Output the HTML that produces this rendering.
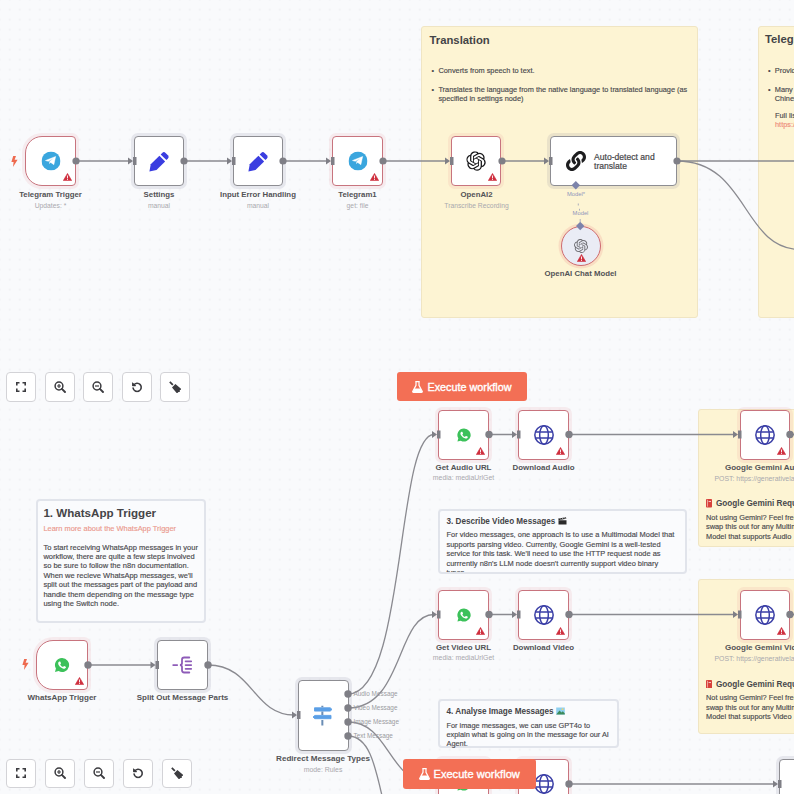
<!DOCTYPE html>
<html><head><meta charset="utf-8">
<style>
*{box-sizing:border-box}
html,body{margin:0;padding:0}
body{width:794px;height:794px;overflow:hidden;position:relative;background:#f9fafc;font-family:"Liberation Sans",sans-serif;
background-image:radial-gradient(circle,#edeef1 0.6px,transparent 0.9px);background-size:10px 10px;background-position:-5.3px -5.4px}
.abs{position:absolute}
.stk{position:absolute;background:#fdf4d3;border:1.5px solid #f0e5c3;border-radius:3px}
.stw{position:absolute;background:#fafbfd;border:2px solid #e1e4eb;border-radius:4px}
.n{position:absolute;width:50px;height:50px;background:#fff;border:1.5px solid #8d8d92;border-radius:4px;box-shadow:0 0 0 3px rgba(110,110,140,0.13)}
.n.e{border-color:#c8747e;border-width:1.7px;box-shadow:0 0 0 3px rgba(225,90,100,0.09)}
.n.t{border-radius:17px 4px 4px 17px}
.lbl{position:absolute;font-weight:bold;font-size:7.8px;color:#535356;white-space:nowrap;transform:translateX(-50%);line-height:1}
.sub{position:absolute;font-size:6.75px;color:#a9a9ae;white-space:nowrap;transform:translateX(-50%);line-height:1}
.ic{position:absolute;left:50%;top:50%;transform:translate(-50%,-50%)}
.warn{position:absolute;right:3.3px;bottom:3.6px;width:9px;height:8px}
.btn{position:absolute;width:30px;height:29.5px;background:#fff;border:1.3px solid #d3d3d7;border-radius:4px}
.btn svg{position:absolute;left:50%;top:50%;transform:translate(-50%,-50%)}
.exe{position:absolute;background:#f36f55;border-radius:3px;color:#fff;font-size:10.8px;font-weight:bold;white-space:nowrap}
.tt{position:absolute;font-weight:bold;color:#444447;white-space:nowrap;line-height:1}
.tx{position:absolute;color:#4a4a4e;white-space:nowrap;line-height:9.45px;font-size:7.37px;-webkit-text-stroke:0.15px currentColor}
</style></head><body>

<svg class="abs" style="left:0;top:0" width="794" height="794">
<defs>
<symbol id="warn" viewBox="0 0 18 16"><path d="M9 0.8 L17.4 15.2 L0.6 15.2 Z" fill="#cf2f3e" stroke="#cf2f3e" stroke-width="1.2" stroke-linejoin="round"/><rect x="8.1" y="5" width="1.8" height="5.8" fill="#fff"/><rect x="8.1" y="12" width="1.8" height="1.8" fill="#fff"/></symbol>
<symbol id="wa" viewBox="0 0 24 24"><path d="M12 1.5 A10.5 10.5 0 0 0 2.9 17.3 L1.5 22.5 L6.9 21.1 A10.5 10.5 0 1 0 12 1.5Z" fill="#3cc15a"/><path d="M8.6 6.6 C8.3 6.6 7.8 6.7 7.4 7.1 C7 7.5 6.3 8.2 6.3 9.6 C6.3 11 7.3 12.4 7.5 12.6 C7.6 12.8 9.5 15.7 12.4 16.9 C14.8 17.9 15.3 17.7 15.8 17.6 C16.4 17.5 17.5 16.9 17.8 16.2 C18 15.5 18 14.9 17.9 14.8 C17.8 14.7 17.7 14.6 17.4 14.5 L15.4 13.5 C15.1 13.4 14.9 13.4 14.7 13.7 L13.9 14.7 C13.7 14.9 13.5 14.9 13.2 14.8 C12.9 14.7 12 14.4 11 13.4 C10.2 12.7 9.6 11.8 9.5 11.5 C9.3 11.2 9.5 11 9.6 10.9 L10.1 10.3 C10.3 10.1 10.3 9.9 10.4 9.7 C10.5 9.5 10.5 9.3 10.4 9.1 L9.5 7 C9.3 6.6 9 6.6 8.8 6.6Z" fill="#fff"/></symbol>
<symbol id="globe" viewBox="0 0 24 24"><g fill="none" stroke="#3a3ea6" stroke-width="1.8"><circle cx="12" cy="12" r="11"/><ellipse cx="12" cy="12" rx="5.2" ry="11"/><path d="M1.5 8.3H22.5M1.5 15.7H22.5"/></g></symbol>
</defs>
</svg>

<!-- ============ TOP ============ -->
<div class="stk" style="left:421px;top:26px;width:277px;height:292px"></div>
<div class="stk" style="left:758px;top:26px;width:60px;height:292px"></div>
<div class="tt" style="left:429.5px;top:35px;font-size:11.3px">Translation</div>
<div class="tx" style="left:431.5px;top:65.5px">•</div><div class="tx" style="left:438.4px;top:65.5px">Converts from speech to text.</div>
<div class="tx" style="left:431.5px;top:85px">•</div><div class="tx" style="left:438.4px;top:85px">Translates the language from the native language to translated language (as<br>specified in settings node)</div>
<div class="tt" style="left:765px;top:34px;font-size:11.3px">Telegram</div>
<div class="tx" style="left:768px;top:65.5px">•</div><div class="tx" style="left:774.8px;top:65.5px">Provides</div>
<div class="tx" style="left:768px;top:85px">•</div><div class="tx" style="left:774.8px;top:85px">Many<br>Chinese</div>
<div class="tx" style="left:775px;top:111px">Full list<br><span style="color:#ee8c7a">https://</span></div>

<svg class="abs" style="left:0;top:0" width="794" height="794" fill="none" stroke="#8a8a90" stroke-width="1.3">
<path d="M76 161H130M184 161H229M283 161H328M383 161H447M502 161H546M677 161H794"/>
<path d="M677 161 C748 161 742 249 800 249.5"/>

</svg>

<!-- lightning -->
<svg class="abs" style="left:11px;top:156px" width="7" height="11" viewBox="0 0 7 11"><path d="M2.2 0 L5 0 L3.6 3.8 L6.6 3.8 L2 11 L2.6 6 L0.4 6 Z" fill="#ee6a4f"/></svg>

<div class="n e t" style="left:25px;top:136px;width:51px">
 <svg class="ic" width="19" height="19" viewBox="0 0 24 24"><circle cx="12" cy="12" r="12" fill="#3aa6de"/><path d="M5 11.4 L17.9 6.3 L15.6 16.6 L11.6 13.8 L10.2 15.2 L10.3 12.7 L15.2 8.6 L8.6 12.4 Z" fill="#fff" stroke="#fff" stroke-width="0.6" stroke-linejoin="round"/></svg>
 <svg class="warn"><use href="#warn"/></svg>
</div>
<div class="lbl" style="left:50.5px;top:190.7px">Telegram Trigger</div>
<div class="sub" style="left:50.5px;top:202.5px">Updates: *</div>

<div class="n" style="left:134px;top:136px">
 <svg class="ic" width="25" height="25" viewBox="0 0 21 21" style="margin-left:1.3px;margin-top:0.6px"><path d="M1.60 18.40 L2.73 12.46 L10.01 5.18 L14.82 9.99 L7.54 17.27 Z" fill="#3a3de0"/><path d="M11.08 4.12 L12.35 2.84 Q13.76 1.43 15.18 2.84 L17.16 4.82 Q18.57 6.24 17.16 7.65 L15.88 8.92 Z" fill="#3a3de0"/></svg>
</div>
<div class="lbl" style="left:159px;top:190.7px">Settings</div>
<div class="sub" style="left:159px;top:202.5px">manual</div>

<div class="n" style="left:233px;top:136px">
 <svg class="ic" width="25" height="25" viewBox="0 0 21 21" style="margin-left:1.3px;margin-top:0.6px"><path d="M1.60 18.40 L2.73 12.46 L10.01 5.18 L14.82 9.99 L7.54 17.27 Z" fill="#3a3de0"/><path d="M11.08 4.12 L12.35 2.84 Q13.76 1.43 15.18 2.84 L17.16 4.82 Q18.57 6.24 17.16 7.65 L15.88 8.92 Z" fill="#3a3de0"/></svg>
</div>
<div class="lbl" style="left:258px;top:190.7px">Input Error Handling</div>
<div class="sub" style="left:258px;top:202.5px">manual</div>

<div class="n e" style="left:332px;top:136px;width:51px">
 <svg class="ic" width="19" height="19" viewBox="0 0 24 24"><circle cx="12" cy="12" r="12" fill="#3aa6de"/><path d="M5 11.4 L17.9 6.3 L15.6 16.6 L11.6 13.8 L10.2 15.2 L10.3 12.7 L15.2 8.6 L8.6 12.4 Z" fill="#fff" stroke="#fff" stroke-width="0.6" stroke-linejoin="round"/></svg>
 <svg class="warn"><use href="#warn"/></svg>
</div>
<div class="lbl" style="left:357.5px;top:190.7px">Telegram1</div>
<div class="sub" style="left:357.5px;top:202.5px">get: file</div>

<div class="n e" style="left:451px;top:136px">
 <svg class="ic" width="19.5" height="19.5" viewBox="0 0 24 24"><path d="M22.2819 9.8211a5.9847 5.9847 0 0 0-.5157-4.9108 6.0462 6.0462 0 0 0-6.5098-2.9A6.0651 6.0651 0 0 0 4.9807 4.1818a5.9847 5.9847 0 0 0-3.9977 2.9 6.0462 6.0462 0 0 0 .7427 7.0966 5.98 5.98 0 0 0 .511 4.9107 6.051 6.051 0 0 0 6.5146 2.9001A5.9847 5.9847 0 0 0 13.2599 24a6.0557 6.0557 0 0 0 5.7718-4.2058 5.9894 5.9894 0 0 0 3.9977-2.9001 6.0557 6.0557 0 0 0-.7475-7.0729zm-9.022 12.6081a4.4755 4.4755 0 0 1-2.8764-1.0408l.1419-.0804 4.7783-2.7582a.7948.7948 0 0 0 .3927-.6813v-6.7369l2.02 1.1686a.071.071 0 0 1 .038.052v5.5826a4.504 4.504 0 0 1-4.4945 4.4944zm-9.6607-4.1254a4.4708 4.4708 0 0 1-.5346-3.0137l.142.0852 4.783 2.7582a.7712.7712 0 0 0 .7806 0l5.8428-3.3685v2.3324a.0804.0804 0 0 1-.0332.0615L9.74 19.9502a4.4992 4.4992 0 0 1-6.1408-1.6464zM2.3408 7.8956a4.485 4.485 0 0 1 2.3655-1.9728V11.6a.7664.7664 0 0 0 .3879.6765l5.8144 3.3543-2.0201 1.1685a.0757.0757 0 0 1-.071 0l-4.8303-2.7865A4.504 4.504 0 0 1 2.3408 7.872zm16.5963 3.8558L13.1038 8.364 15.1192 7.2a.0757.0757 0 0 1 .071 0l4.8303 2.7913a4.4944 4.4944 0 0 1-.6765 8.1042v-5.6772a.79.79 0 0 0-.407-.667zm2.0107-3.0231l-.142-.0852-4.7735-2.7818a.7759.7759 0 0 0-.7854 0L9.409 9.2297V6.8974a.0662.0662 0 0 1 .0284-.0615l4.8303-2.7866a4.4992 4.4992 0 0 1 6.6802 4.66zM8.3065 12.863l-2.02-1.1638a.0804.0804 0 0 1-.038-.0567V6.0742a4.4992 4.4992 0 0 1 7.3757-3.4537l-.142.0805L8.704 5.459a.7948.7948 0 0 0-.3927.6813zm1.0976-2.3654l2.602-1.4998 2.6069 1.4998v2.9994l-2.5974 1.4997-2.6067-1.4997Z" fill="#1a1a1c"/></svg>
 <svg class="warn"><use href="#warn"/></svg>
</div>
<div class="lbl" style="left:476.5px;top:190.7px">OpenAI2</div>
<div class="sub" style="left:476.5px;top:202.5px">Transcribe Recording</div>

<div class="n" style="left:550px;top:136px;width:127px">
 <svg class="abs" style="left:15.3px;top:14px" width="20" height="20" viewBox="0 0 512 512"><path d="M326.612 185.391c59.747 59.809 58.927 155.698.36 214.59-.11.12-.24.25-.36.37l-67.2 67.2c-59.27 59.27-155.699 59.262-214.96 0-59.27-59.26-59.27-155.7 0-214.96l37.106-37.106c9.84-9.84 26.786-3.3 27.294 10.606.648 17.722 3.826 35.527 9.69 52.721 1.986 5.822.567 12.262-3.783 16.612l-13.087 13.087c-28.026 28.026-28.905 73.66-1.155 101.96 28.024 28.579 74.086 28.749 102.325.51l67.2-67.19c28.191-28.191 28.073-73.757 0-101.83-3.701-3.694-7.429-6.564-10.341-8.569a16.037 16.037 0 0 1-6.947-12.606c-.396-10.567 3.348-21.456 11.698-29.806l21.054-21.055c5.521-5.521 14.182-6.199 20.584-1.731a152.482 152.482 0 0 1 20.522 17.197zM467.547 44.449c-59.261-59.262-155.69-59.27-214.96 0l-67.2 67.2c-.12.12-.25.25-.36.37-58.566 58.892-59.387 154.781.36 214.59a152.454 152.454 0 0 0 20.521 17.196c6.402 4.468 15.064 3.789 20.584-1.731l21.054-21.055c8.35-8.35 12.094-19.239 11.698-29.806a16.037 16.037 0 0 0-6.947-12.606c-2.912-2.005-6.64-4.875-10.341-8.569-28.073-28.073-28.191-73.639 0-101.83l67.2-67.19c28.239-28.239 74.3-28.069 102.325.51 27.75 28.3 26.872 73.934-1.155 101.96l-13.087 13.087c-4.35 4.35-5.769 10.79-3.783 16.612 5.864 17.194 9.042 34.999 9.69 52.721.509 13.906 17.454 20.446 27.294 10.606l37.106-37.106c59.271-59.259 59.271-155.699.001-214.959z" fill="#1d1d1f"/></svg>
 <div class="abs" style="left:43px;top:14.5px;font-size:8.6px;line-height:10px;color:#47474a;-webkit-text-stroke:0.2px #47474a">Auto-detect and</div><div class="abs" style="left:43px;top:24.2px;font-size:8.6px;line-height:10px;color:#47474a;-webkit-text-stroke:0.2px #47474a">translate</div>
</div>

<div class="abs" style="left:561px;top:225.5px;width:40px;height:40px;border-radius:50%;background:#eaecf5;border:1.6px solid #cf6a70;box-shadow:0 0 0 2.5px rgba(225,90,100,0.14)">
 <svg class="ic" width="14" height="14" viewBox="0 0 24 24"><path d="M22.2819 9.8211a5.9847 5.9847 0 0 0-.5157-4.9108 6.0462 6.0462 0 0 0-6.5098-2.9A6.0651 6.0651 0 0 0 4.9807 4.1818a5.9847 5.9847 0 0 0-3.9977 2.9 6.0462 6.0462 0 0 0 .7427 7.0966 5.98 5.98 0 0 0 .511 4.9107 6.051 6.051 0 0 0 6.5146 2.9001A5.9847 5.9847 0 0 0 13.2599 24a6.0557 6.0557 0 0 0 5.7718-4.2058 5.9894 5.9894 0 0 0 3.9977-2.9001 6.0557 6.0557 0 0 0-.7475-7.0729zm-9.022 12.6081a4.4755 4.4755 0 0 1-2.8764-1.0408l.1419-.0804 4.7783-2.7582a.7948.7948 0 0 0 .3927-.6813v-6.7369l2.02 1.1686a.071.071 0 0 1 .038.052v5.5826a4.504 4.504 0 0 1-4.4945 4.4944zm-9.6607-4.1254a4.4708 4.4708 0 0 1-.5346-3.0137l.142.0852 4.783 2.7582a.7712.7712 0 0 0 .7806 0l5.8428-3.3685v2.3324a.0804.0804 0 0 1-.0332.0615L9.74 19.9502a4.4992 4.4992 0 0 1-6.1408-1.6464zM2.3408 7.8956a4.485 4.485 0 0 1 2.3655-1.9728V11.6a.7664.7664 0 0 0 .3879.6765l5.8144 3.3543-2.0201 1.1685a.0757.0757 0 0 1-.071 0l-4.8303-2.7865A4.504 4.504 0 0 1 2.3408 7.872zm16.5963 3.8558L13.1038 8.364 15.1192 7.2a.0757.0757 0 0 1 .071 0l4.8303 2.7913a4.4944 4.4944 0 0 1-.6765 8.1042v-5.6772a.79.79 0 0 0-.407-.667zm2.0107-3.0231l-.142-.0852-4.7735-2.7818a.7759.7759 0 0 0-.7854 0L9.409 9.2297V6.8974a.0662.0662 0 0 1 .0284-.0615l4.8303-2.7866a4.4992 4.4992 0 0 1 6.6802 4.66zM8.3065 12.863l-2.02-1.1638a.0804.0804 0 0 1-.038-.0567V6.0742a4.4992 4.4992 0 0 1 7.3757-3.4537l-.142.0805L8.704 5.459a.7948.7948 0 0 0-.3927.6813zm1.0976-2.3654l2.602-1.4998 2.6069 1.4998v2.9994l-2.5974 1.4997-2.6067-1.4997Z" fill="#6d6d72"/></svg>
 <svg class="warn" style="left:14.5px;top:27px"><use href="#warn"/></svg>
</div>
<!-- model handles -->
<svg class="abs" style="left:560px;top:175px" width="40" height="60" viewBox="560 175 40 60">
 <path d="M575.8 181 L580 185.3 L575.8 189.6 L571.6 185.3 Z" fill="#7c83ab"/>
 <path d="M580.2 221.7 L584.4 226 L580.2 230.3 L576 226 Z" fill="#7c83ab"/>
 <path d="M578.3 203.5V205.5M579.5 208.8V210.6M580.2 219V222" stroke="#8a8fb5" stroke-width="0.7"/>
</svg>
<div class="sub" style="left:576px;top:191.5px;font-size:5.8px;color:#8f94bb">Model*</div>
<div class="sub" style="left:580.5px;top:211.2px;font-size:5.8px;color:#8f94bb">Model</div>
<div class="lbl" style="left:580.5px;top:269.5px">OpenAI Chat Model</div>

<!-- handles top -->
<svg class="abs" style="left:0;top:0" width="794" height="400" fill="#7f7f86">
 <circle cx="76" cy="161" r="3.6"/><circle cx="184" cy="161" r="3.6"/><circle cx="283" cy="161" r="3.6"/><circle cx="383" cy="161" r="3.6"/><circle cx="502" cy="161" r="3.6"/><circle cx="677" cy="161" r="3.6"/>
 <path d="M128.0 157.6 L133.0 161.0 L128.0 164.4Z M133.0 157.0h3.5v8h-3.5z"/>
 <path d="M227.0 157.6 L232.0 161.0 L227.0 164.4Z M232.0 157.0h3.5v8h-3.5z"/>
 <path d="M326.0 157.6 L331.0 161.0 L326.0 164.4Z M331.0 157.0h3.5v8h-3.5z"/>
 <path d="M445.0 157.6 L450.0 161.0 L445.0 164.4Z M450.0 157.0h3.5v8h-3.5z"/>
 <path d="M544.0 157.6 L549.0 161.0 L544.0 164.4Z M549.0 157.0h3.5v8h-3.5z"/>
</svg>

<!-- toolbar top -->
<div class="btn" style="left:6px;top:372px"><svg width="10" height="10" viewBox="0 0 10 10" fill="none" stroke="#3c3c40" stroke-width="1.6"><path d="M0.8 3.5V0.8H3.5M6.5 0.8H9.2V3.5M9.2 6.5V9.2H6.5M3.5 9.2H0.8V6.5"/></svg></div>
<div class="btn" style="left:44.5px;top:372px"><svg width="12" height="12" viewBox="0 0 12 12" fill="none" stroke="#3c3c40" stroke-width="1.5"><circle cx="5" cy="5" r="3.9"/><path d="M7.9 7.9L11 11" stroke-width="1.9" stroke-linecap="round"/><path d="M3 5H7M5 3V7" stroke-width="1.2"/></svg></div>
<div class="btn" style="left:83px;top:372px"><svg width="12" height="12" viewBox="0 0 12 12" fill="none" stroke="#3c3c40" stroke-width="1.5"><circle cx="5" cy="5" r="3.9"/><path d="M7.9 7.9L11 11" stroke-width="1.9" stroke-linecap="round"/><path d="M3 5H7" stroke-width="1.2"/></svg></div>
<div class="btn" style="left:121.5px;top:372px"><svg width="11" height="11" viewBox="0 0 11 11" fill="none" stroke="#3c3c40" stroke-width="1.6"><path d="M2.2 3.6 A4.1 4.1 0 1 1 1.6 6.6" stroke-linecap="round"/><path d="M0.8 0.9V4.6H4.5" fill="#3c3c40" stroke-width="0"/><path d="M1 1.2 L1 4.4 L4.2 4.4Z" fill="#3c3c40" stroke-width="0.6"/></svg></div>
<div class="btn" style="left:160px;top:372px"><svg width="12" height="12" viewBox="0 0 12 12" fill="#3c3c40"><path d="M0.18 1.45 L3.22 4.49 L4.49 3.22 L1.45 0.18 Z"/><path d="M3.00 6.40 L6.40 3.00 L12.90 8.38 L10.78 9.09 L10.92 10.64 L8.94 11.21 L8.38 12.90 Z"/></svg></div>

<div class="exe" style="left:397px;top:372px;width:130px;height:29px"><svg class="abs" style="left:15px;top:8.5px" width="11" height="12" viewBox="0 0 11 12"><path d="M3.3 0.6H7.7M4 0.8V4.4L0.8 10.2C0.5 10.8 0.8 11.4 1.5 11.4H9.5C10.2 11.4 10.5 10.8 10.2 10.2L7 4.4V0.8" fill="none" stroke="#fff" stroke-width="1.2" stroke-linejoin="round"/><path d="M2.4 7.4H8.6L10 10.4C10.2 10.9 10 11.2 9.4 11.2H1.6C1 11.2 0.8 10.9 1 10.4Z" fill="#fff"/></svg><div class="abs" style="left:30.5px;top:10.1px;font-size:10.8px;line-height:1;font-weight:normal;-webkit-text-stroke:0.35px #fff">Execute workflow</div></div>


<!-- ============ BOTTOM ============ -->
<div class="stk" style="left:697.5px;top:408.5px;width:120px;height:138px"></div>
<div class="stk" style="left:698px;top:578.5px;width:120px;height:155px"></div>

<div class="stw" style="left:35.5px;top:499px;width:170.5px;height:123.5px"></div>
<div class="tt" style="left:43.4px;top:507px;font-size:11.6px;color:#444447">1. WhatsApp Trigger</div>
<div class="tx" style="left:43.4px;top:524px;font-size:7.44px;color:#eb9a8e">Learn more about the WhatsApp Trigger</div>
<div class="tx" style="left:43.4px;top:542.5px;font-size:7.52px">To start receiving WhatsApp messages in your<br>workflow, there are quite a few steps involved<br>so be sure to follow the n8n documentation.<br>When we recieve WhatsApp messages, we'll<br>split out the messages part of the payload and<br>handle them depending on the message type<br>using the Switch node.</div>

<div class="stw" style="left:437.5px;top:508.5px;width:249px;height:65.5px;overflow:hidden">
 <div class="tt" style="left:7px;top:6.6px;font-size:8.15px;color:#444447">3. Describe Video Messages <svg width="9" height="8" viewBox="0 0 9 8" style="vertical-align:-1px;margin-left:0.5px"><path d="M0.5 3.2H8.5V7.5H0.5Z" fill="#2a2a2a"/><path d="M0.3 1.6L8 0.2L8.3 1.8L0.6 3.2Z" fill="#2a2a2a"/><path d="M2 1.3L3 2.7M4.2 0.9L5.2 2.3M6.4 0.5L7.4 1.9" stroke="#fff" stroke-width="0.6"/></svg></div>
 <div class="tx" style="left:7px;top:19.8px;font-size:7.46px">For video messages, one approach is to use a Multimodal Model that<br>supports parsing video. Currently, Google Gemini is a well-tested<br>service for this task. We'll need to use the HTTP request node as<br>currrently n8n's LLM node doesn't currently support video binary<br>types.</div>
</div>

<div class="stw" style="left:437.5px;top:699px;width:181px;height:48.5px">
 <div class="tt" style="left:7px;top:6px;font-size:8.17px;color:#444447">4. Analyse Image Messages <svg width="9" height="8" viewBox="0 0 9 8" style="vertical-align:-1px;margin-left:0.5px"><rect x="0.2" y="0.5" width="8.6" height="7" fill="#8fd0ef"/><path d="M0.2 7.5L3.5 3.5L5.5 5.5L6.8 4.2L8.8 6.5V7.5Z" fill="#3d8b5b"/><circle cx="6.5" cy="2.2" r="0.9" fill="#f3d36b"/></svg></div>
 <div class="tx" style="left:7px;top:19.5px;font-size:7.36px">For image messages, we can use GPT4o to<br>explain what is going on in the message for our AI<br>Agent.</div>
</div>

<!-- gemini sticky texts -->
<div class="sub" style="left:714.5px;top:476px;font-size:6.9px;transform:none">POST: https://generativelanguage</div>
<div class="lbl" style="left:725px;top:463.5px;font-size:8px;transform:none">Google Gemini Audio</div>
<svg class="abs" style="left:705.5px;top:499px" width="6" height="8.5" viewBox="0 0 6 8.5"><rect x="0" y="0" width="6" height="8.5" rx="0.8" fill="#d8413b"/><rect x="1.2" y="0.8" width="0.7" height="6.8" fill="#f6c7bf"/><rect x="2.6" y="2" width="2.4" height="1" fill="#fff" opacity="0.7"/></svg>
<div class="tt" style="left:716px;top:500px;font-size:8.2px;color:#48484b">Google Gemini Request</div>
<div class="tx" style="left:706px;top:512.5px;font-size:7.39px;line-height:9.7px">Not using Gemini? Feel free to<br>swap this out for any Multimodal<br>Model that supports Audio</div>

<div class="sub" style="left:714.5px;top:656px;font-size:6.9px;transform:none">POST: https://generativelanguage</div>
<div class="lbl" style="left:725px;top:643.5px;font-size:8px;transform:none">Google Gemini Video</div>
<svg class="abs" style="left:705.5px;top:679.5px" width="6" height="8.5" viewBox="0 0 6 8.5"><rect x="0" y="0" width="6" height="8.5" rx="0.8" fill="#d8413b"/><rect x="1.2" y="0.8" width="0.7" height="6.8" fill="#f6c7bf"/><rect x="2.6" y="2" width="2.4" height="1" fill="#fff" opacity="0.7"/></svg>
<div class="tt" style="left:716px;top:680.5px;font-size:8.2px;color:#48484b">Google Gemini Request</div>
<div class="tx" style="left:706px;top:693px;font-size:7.39px;line-height:9.7px">Not using Gemini? Feel free to<br>swap this out for any Multimodal<br>Model that supports Video</div>

<svg class="abs" style="left:0;top:0" width="794" height="794" fill="none" stroke="#8a8a90" stroke-width="1.3">
<path d="M88 665H152M208 665 C253 665 253 715 294 715"/>
<path d="M489 434.5H514M569 434.5H735M790 434.5H794"/>
<path d="M489 614.5H514M569 614.5H735M790 614.5H794"/>
<path d="M348 694 C406 694 396 434.5 434 434.5"/>
<path d="M348 708 C404 708 396 614.5 434 614.5"/>
<path d="M348 722 C390 722 388 784 434 784"/>
<path d="M348 736 C374 736 377 780 389 825"/>
<path d="M569 784H775"/>
</svg>

<div class="stw" style="left:437.5px;top:699px;width:181px;height:48.5px;background:transparent;border-color:transparent"></div>

<svg class="abs" style="left:22px;top:659px" width="7" height="11" viewBox="0 0 7 11"><path d="M2.2 0 L5 0 L3.6 3.8 L6.6 3.8 L2 11 L2.6 6 L0.4 6 Z" fill="#ee6a4f"/></svg>

<div class="n e t" style="left:36px;top:639.5px;width:52px">
 <svg class="ic" width="16" height="16" viewBox="0 0 24 24"><path d="M12 1.5 A10.5 10.5 0 0 0 2.9 17.3 L1.5 22.5 L6.9 21.1 A10.5 10.5 0 1 0 12 1.5Z" fill="#3cc15a"/><path d="M8.6 6.6 C8.3 6.6 7.8 6.7 7.4 7.1 C7 7.5 6.3 8.2 6.3 9.6 C6.3 11 7.3 12.4 7.5 12.6 C7.6 12.8 9.5 15.7 12.4 16.9 C14.8 17.9 15.3 17.7 15.8 17.6 C16.4 17.5 17.5 16.9 17.8 16.2 C18 15.5 18 14.9 17.9 14.8 C17.8 14.7 17.7 14.6 17.4 14.5 L15.4 13.5 C15.1 13.4 14.9 13.4 14.7 13.7 L13.9 14.7 C13.7 14.9 13.5 14.9 13.2 14.8 C12.9 14.7 12 14.4 11 13.4 C10.2 12.7 9.6 11.8 9.5 11.5 C9.3 11.2 9.5 11 9.6 10.9 L10.1 10.3 C10.3 10.1 10.3 9.9 10.4 9.7 C10.5 9.5 10.5 9.3 10.4 9.1 L9.5 7 C9.3 6.6 9 6.6 8.8 6.6Z" fill="#fff"/></svg>
 <svg class="warn"><use href="#warn"/></svg>
</div>
<div class="lbl" style="left:62px;top:693.5px;font-size:8px">WhatsApp Trigger</div>

<div class="n" style="left:157px;top:639.5px;width:51px">
 <svg class="ic" width="22" height="19" viewBox="-1 -1 22 19" fill="none" stroke="#8e5cb8" stroke-width="1.8" stroke-linecap="round"><path d="M0.2 8.6H4.2"/><path d="M16.3 1H11.2C9.7 1 9 1.8 9 3.2V6.6C9 7.8 8.3 8.6 6.9 8.6C8.3 8.6 9 9.4 9 10.6V13.8C9 15.2 9.7 16 11.2 16H16.3"/><path d="M12.6 4.8H18.2M12.6 8.6H18.2M12.6 12.3H18.2"/></svg>
</div>
<div class="lbl" style="left:182.5px;top:693.5px;font-size:8px">Split Out Message Parts</div>

<div class="n" style="left:298px;top:680px;width:50.5px;height:71px">
 <svg class="ic" width="22" height="22" viewBox="-1 0 22 22"><g fill="#5b9fe6" stroke="#5b9fe6" stroke-width="0.9" stroke-linejoin="round"><path d="M1.5 2.8H17.2L19 4.45L17.2 6.1H1.5Z"/><path d="M18 10.4H1.8L0 12.05L1.8 13.7H18Z"/></g><path d="M9.35 0.8V2.3M9.35 6.6V9.9M9.35 15V20.5" stroke="#6a8db5" stroke-width="2"/></svg>
</div>
<div class="lbl" style="left:323px;top:755px;font-size:8.1px">Redirect Message Types</div>
<div class="sub" style="left:323px;top:766.5px;font-size:6.9px">mode: Rules</div>
<div class="sub" style="left:353.5px;top:690.5px;font-size:6.4px;transform:none;color:#9a9a9f">Audio Message</div>
<div class="sub" style="left:353.5px;top:704.5px;font-size:6.4px;transform:none;color:#9a9a9f">Video Message</div>
<div class="sub" style="left:353.5px;top:718.5px;font-size:6.4px;transform:none;color:#9a9a9f">Image Message</div>
<div class="sub" style="left:353.5px;top:732.5px;font-size:6.4px;transform:none;color:#9a9a9f">Text Message</div>

<div class="n e" style="left:438px;top:409.5px;width:51px">
 <svg class="ic" width="15" height="15" viewBox="0 0 24 24"><use href="#wa"/></svg>
 <svg class="warn"><use href="#warn"/></svg>
</div>
<div class="lbl" style="left:463.5px;top:463.5px;font-size:7.9px">Get Audio URL</div>
<div class="sub" style="left:463.5px;top:475px;font-size:6.9px">media: mediaUrlGet</div>

<div class="n e" style="left:518px;top:409.5px;width:51px">
 <svg class="ic" width="20" height="20" viewBox="0 0 24 24"><use href="#globe"/></svg>
 <svg class="warn"><use href="#warn"/></svg>
</div>
<div class="lbl" style="left:543.5px;top:463.5px;font-size:7.9px">Download Audio</div>

<div class="n e" style="left:739.5px;top:409.5px;width:50.5px">
 <svg class="ic" width="20" height="20" viewBox="0 0 24 24"><use href="#globe"/></svg>
 <svg class="warn"><use href="#warn"/></svg>
</div>

<div class="n e" style="left:438px;top:589.5px;width:51px">
 <svg class="ic" width="15" height="15" viewBox="0 0 24 24"><use href="#wa"/></svg>
 <svg class="warn"><use href="#warn"/></svg>
</div>
<div class="lbl" style="left:463.5px;top:643.5px;font-size:7.9px">Get Video URL</div>
<div class="sub" style="left:463.5px;top:655px;font-size:6.9px">media: mediaUrlGet</div>

<div class="n e" style="left:518px;top:589.5px;width:51px">
 <svg class="ic" width="20" height="20" viewBox="0 0 24 24"><use href="#globe"/></svg>
 <svg class="warn"><use href="#warn"/></svg>
</div>
<div class="lbl" style="left:543.5px;top:643.5px;font-size:7.9px">Download Video</div>

<div class="n e" style="left:739.5px;top:589.5px;width:50.5px">
 <svg class="ic" width="20" height="20" viewBox="0 0 24 24"><use href="#globe"/></svg>
 <svg class="warn"><use href="#warn"/></svg>
</div>

<!-- bottom row partial -->
<div class="n e" style="left:438px;top:759px;width:51px;height:50px"><svg class="ic" width="15" height="15" viewBox="0 0 24 24"><use href="#wa"/></svg></div>
<div class="n e" style="left:518px;top:759px;width:51px;height:50px">
 <svg class="ic" width="20" height="20" viewBox="0 0 24 24"><use href="#globe"/></svg>
</div>
<div class="n" style="left:779px;top:759px;width:51px;height:50px"></div>

<svg class="abs" style="left:0;top:400px" width="794" height="394" viewBox="0 400 794 394" fill="#7f7f86">
 <circle cx="88" cy="665" r="3.7"/><circle cx="208" cy="665" r="3.7"/>
 <circle cx="348" cy="694" r="3.7"/><circle cx="348" cy="708" r="3.7"/><circle cx="348" cy="722" r="3.7"/><circle cx="348" cy="736" r="3.7"/>
 <circle cx="489" cy="434.5" r="3.7"/><circle cx="569" cy="434.5" r="3.7"/><circle cx="790" cy="434.5" r="3.7"/>
 <circle cx="489" cy="614.5" r="3.7"/><circle cx="569" cy="614.5" r="3.7"/><circle cx="790" cy="614.5" r="3.7"/>
 <circle cx="569" cy="784" r="3.7"/>
 <path d="M150.5 661.6 L155.5 665.0 L150.5 668.4Z M155.5 661.0h3.5v8h-3.5z"/>
 <path d="M292.0 711.6 L297.0 715.0 L292.0 718.4Z M297.0 711.0h3.5v8h-3.5z"/>
 <path d="M432.0 431.1 L437.0 434.5 L432.0 437.9Z M437.0 430.5h3.5v8h-3.5z"/>
 <path d="M512.0 431.1 L517.0 434.5 L512.0 437.9Z M517.0 430.5h3.5v8h-3.5z"/>
 <path d="M733.0 431.1 L738.0 434.5 L733.0 437.9Z M738.0 430.5h3.5v8h-3.5z"/>
 <path d="M432.0 611.1 L437.0 614.5 L432.0 617.9Z M437.0 610.5h3.5v8h-3.5z"/>
 <path d="M512.0 611.1 L517.0 614.5 L512.0 617.9Z M517.0 610.5h3.5v8h-3.5z"/>
 <path d="M733.0 611.1 L738.0 614.5 L733.0 617.9Z M738.0 610.5h3.5v8h-3.5z"/>
 <path d="M773.0 780.6 L778.0 784.0 L773.0 787.4Z M778.0 780.0h3.5v8h-3.5z"/>
</svg>

<!-- toolbar bottom -->
<div class="btn" style="left:5.5px;top:758.5px"><svg width="10" height="10" viewBox="0 0 10 10" fill="none" stroke="#3c3c40" stroke-width="1.6"><path d="M0.8 3.5V0.8H3.5M6.5 0.8H9.2V3.5M9.2 6.5V9.2H6.5M3.5 9.2H0.8V6.5"/></svg></div>
<div class="btn" style="left:44.5px;top:758.5px"><svg width="12" height="12" viewBox="0 0 12 12" fill="none" stroke="#3c3c40" stroke-width="1.5"><circle cx="5" cy="5" r="3.9"/><path d="M7.9 7.9L11 11" stroke-width="1.9" stroke-linecap="round"/><path d="M3 5H7M5 3V7" stroke-width="1.2"/></svg></div>
<div class="btn" style="left:83.5px;top:758.5px"><svg width="12" height="12" viewBox="0 0 12 12" fill="none" stroke="#3c3c40" stroke-width="1.5"><circle cx="5" cy="5" r="3.9"/><path d="M7.9 7.9L11 11" stroke-width="1.9" stroke-linecap="round"/><path d="M3 5H7" stroke-width="1.2"/></svg></div>
<div class="btn" style="left:122.5px;top:758.5px"><svg width="11" height="11" viewBox="0 0 11 11" fill="none" stroke="#3c3c40" stroke-width="1.6"><path d="M2.2 3.6 A4.1 4.1 0 1 1 1.6 6.6" stroke-linecap="round"/><path d="M0.8 0.9V4.6H4.5" fill="#3c3c40" stroke-width="0"/><path d="M1 1.2 L1 4.4 L4.2 4.4Z" fill="#3c3c40" stroke-width="0.6"/></svg></div>
<div class="btn" style="left:162px;top:758.5px"><svg width="12" height="12" viewBox="0 0 12 12" fill="#3c3c40"><path d="M0.18 1.45 L3.22 4.49 L4.49 3.22 L1.45 0.18 Z"/><path d="M3.00 6.40 L6.40 3.00 L12.90 8.38 L10.78 9.09 L10.92 10.64 L8.94 11.21 L8.38 12.90 Z"/></svg></div>

<div class="exe" style="left:403px;top:758.5px;width:132.5px;height:30px"><svg class="abs" style="left:16px;top:9px" width="11" height="12" viewBox="0 0 11 12"><path d="M3.3 0.6H7.7M4 0.8V4.4L0.8 10.2C0.5 10.8 0.8 11.4 1.5 11.4H9.5C10.2 11.4 10.5 10.8 10.2 10.2L7 4.4V0.8" fill="none" stroke="#fff" stroke-width="1.2" stroke-linejoin="round"/><path d="M2.4 7.4H8.6L10 10.4C10.2 10.9 10 11.2 9.4 11.2H1.6C1 11.2 0.8 10.9 1 10.4Z" fill="#fff"/></svg><div class="abs" style="left:30.5px;top:10.4px;font-size:11.1px;line-height:1;font-weight:normal;-webkit-text-stroke:0.35px #fff">Execute workflow</div></div>

</body></html>
